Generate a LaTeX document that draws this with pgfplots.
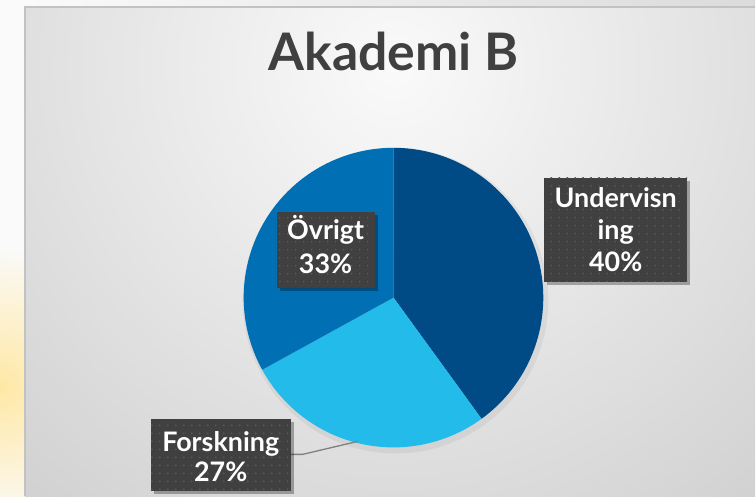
\documentclass[border=0pt]{standalone}
\usepackage{pgfplots}
\pgfplotsset{compat=1.18}
\usepackage{fontspec}
\setmainfont{Lato}
\usetikzlibrary{patterns.meta,calc}
\definecolor{cU}{HTML}{004A86}
\definecolor{cF}{HTML}{22BBEA}
\definecolor{cO}{HTML}{006FB3}
\definecolor{boxc}{HTML}{404040}
\definecolor{dotc}{HTML}{575757}
\definecolor{titlec}{HTML}{404040}
% data (percent)
\def\vU{40}\def\vF{27}\def\vO{33}
\newcommand\labbox[2]{%
  \fill[black, opacity=0.30] ($(#1)+(3,-3)$) rectangle ($(#2)+(3,-3)$);
  \fill[boxc] (#1) rectangle (#2);
  \fill[pattern={Dots[distance=8bp, radius=1bp]}, pattern color=dotc] (#1) rectangle (#2);
}
\begin{document}
\begin{tikzpicture}[x=1bp,y=1bp]
% ---------- background ----------
\fill[white!97!black] (0,0) rectangle (756,497);
\begin{scope}
\clip (0,0) rectangle (25,497);
\fill[white!98!black] (0,0) rectangle (25,497);
\shade[inner color={rgb,255:red,255;green,232;blue,165}, outer color=white!98!black] (0,110) circle (140);
\end{scope}
\shade[left color=white!98!black, right color=white!86!black] (25,490) rectangle (756,497);
\begin{scope}
\clip (25,0) rectangle (756,490);
\shade[inner color=white!98!black, outer color=white!80!black] (394,430) circle (640);
\end{scope}
\draw[line width=2bp, white!76!black] (25,0) -- (25,490) -- (756,490);
% ---------- title ----------
\node[anchor=base, text=titlec, font=\fontsize{52}{56}\selectfont\bfseries] at (394,426) {Akademi B};
% ---------- pie ----------
\fill[black, opacity=0.05] (396,196) circle (153);
\pgfmathsetmacro\aA{90}
\pgfmathsetmacro\aB{90-3.6*\vU}
\pgfmathsetmacro\aC{\aB-3.6*\vF}
\pgfmathsetmacro\aD{\aC-3.6*\vO}
\begin{axis}[at={(394bp,199bp)}, anchor=center, x=150bp, y=150bp,
  xmin=-1, xmax=1, ymin=-1, ymax=1, enlargelimits=false, hide axis, clip=false]
\addplot[draw=none, fill=cU, domain=\aB:\aA, samples=120, variable=\t] ({cos(t)},{sin(t)}) -- (axis cs:0,0) -- cycle;
\addplot[draw=none, fill=cF, domain=\aC:\aB, samples=120, variable=\t] ({cos(t)},{sin(t)}) -- (axis cs:0,0) -- cycle;
\addplot[draw=none, fill=cO, domain=\aD:\aC, samples=120, variable=\t] ({cos(t)},{sin(t)}) -- (axis cs:0,0) -- cycle;
\end{axis}
% ---------- leader line ----------
\draw[line width=1.3bp, white!50!black] (291,42) -- (303,42) -- (358,55);
% ---------- label boxes ----------
\labbox{545,215}{688,319}
\labbox{277,209}{375,285}
\labbox{151,5}{291,77}
\begin{scope}[every node/.style={anchor=base, text=white, font=\fontsize{27}{30}\selectfont\bfseries}]
\node at (616.5,289) {Undervisn};
\node at (616.5,257) {ing};
\node at (616.5,225) {40\%};
\node at (326,257) {Övrigt};
\node at (326,223) {33\%};
\node at (221,45) {Forskning};
\node at (221,15) {27\%};
\end{scope}
\end{tikzpicture}
\end{document}
